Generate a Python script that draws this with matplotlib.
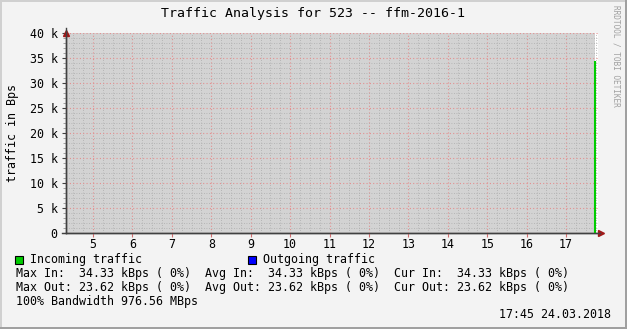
import numpy as np
import matplotlib
matplotlib.use("Agg")
import matplotlib.pyplot as plt
from matplotlib.patches import Rectangle
from matplotlib.lines import Line2D

# data
sample_hours = [17.73]          # only sample present (hours of day)
incoming_bps = [34330]
outgoing_bps = [23620]
x_ticks = [5, 6, 7, 8, 9, 10, 11, 12, 13, 14, 15, 16, 17]
y_ticks = [0, 5000, 10000, 15000, 20000, 25000, 30000, 35000, 40000]
y_labels = ["0", "5 k", "10 k", "15 k", "20 k", "25 k", "30 k", "35 k", "40 k"]

title = "Traffic Analysis for 523 -- ffm-2016-1"
stats_in = ("34.33", "34.33", "34.33")
stats_out = ("23.62", "23.62", "23.62")
bandwidth = "976.56 MBps"
stamp = "17:45 24.03.2018"

W, H = 627, 329
BG = "#f3f3f3"
MONO = "DejaVu Sans Mono"

fig = plt.figure(figsize=(W / 100, H / 100), dpi=100, facecolor=BG)

def px(x, y):
    return x / W, 1 - y / H

# plot area in pixels
left, right, top, bottom = 66, 598, 33, 233
ax = fig.add_axes([left / W, 1 - bottom / H, (right - left) / W, (bottom - top) / H])
ax.set_facecolor("#d3d3d3")
ax.set_xlim(4.315, 17.81)
ax.set_ylim(0, 40000)

# strip after the last sample stays white
ax.axvspan(sample_hours[-1], 17.81, color="white", zorder=0.5, lw=0)

# grid
ax.set_xticks(x_ticks)
ax.set_xticks(np.arange(4.5, 17.9, 0.25), minor=True)
ax.set_yticks(y_ticks)
ax.set_yticks(np.arange(0, 40001, 1000), minor=True)
ax.grid(which="minor", color="#acacac", ls=(0, (1, 2)), lw=0.6, zorder=1)
ax.grid(which="major", color="#e39090", ls=(0, (1, 2)), lw=0.8, zorder=1.1)
ax.set_axisbelow(False)

# traffic
ax.vlines(sample_hours, 0, incoming_bps, color="#00cc00", lw=1.5, zorder=3)
ax.plot(sample_hours, outgoing_bps, color="#0000ff", lw=1, zorder=4)

ax.set_xticklabels([str(t) for t in x_ticks], fontfamily=MONO, fontsize=8.4)
ax.set_yticklabels(y_labels, fontfamily=MONO, fontsize=8.4)
ax.tick_params(axis="y", which="major", direction="out", length=3, width=0.8, color="#404040", pad=3)
ax.tick_params(axis="y", which="minor", direction="out", length=2, width=0.5, color="#808080")
ax.tick_params(axis="x", which="major", direction="out", length=3, width=0.8, color="#d07070", pad=0.5)
ax.tick_params(axis="x", which="minor", length=0)

for s in ["top", "right"]:
    ax.spines[s].set_visible(False)
for s in ["left", "bottom"]:
    ax.spines[s].set_color("#404040")
    ax.spines[s].set_linewidth(1.0)

# axis arrows
fig.add_artist(Line2D([px(66, 0)[0]] * 2, [px(0, 233)[1], px(0, 28)[1]], color="#404040", lw=1))
fig.add_artist(Line2D([px(62, 0)[0], px(600, 0)[0]], [px(0, 233)[1]] * 2, color="#404040", lw=1))
ax.plot([0], [1], transform=ax.transAxes, marker="^", ms=4.5, color="#a01818", clip_on=False, zorder=5)
ax.plot([1.006], [0], transform=ax.transAxes, marker=">", ms=4.5, color="#a01818", clip_on=False, zorder=5)

ax.set_ylabel("traffic in Bps", fontfamily=MONO, fontsize=8.4, labelpad=8)

fig.text(*px(313, 13), title, ha="center", va="center", fontfamily=MONO, fontsize=9.5)
fig.text(*px(616, 5), "RRDTOOL / TOBI OETIKER", ha="center", va="top", rotation=-90,
         fontfamily=MONO, fontsize=5.6, color="#a0a0a0")

# legend
for xb, color, label in [(15, "#00cc00", "Incoming traffic"), (248, "#0000ff", "Outgoing traffic")]:
    fig.add_artist(Rectangle(px(xb, 264), 8 / W, 8 / H, transform=fig.transFigure,
                             facecolor=color, edgecolor="black", lw=0.8))
    fig.text(*px(xb + 15, 259), label, va="center", fontfamily=MONO, fontsize=8.4)

row_in = "Max In:  %s kBps ( 0%%)  Avg In:  %s kBps ( 0%%)  Cur In:  %s kBps ( 0%%)" % stats_in
row_out = "Max Out: %s kBps ( 0%%)  Avg Out: %s kBps ( 0%%)  Cur Out: %s kBps ( 0%%)" % stats_out
for y, txt in [(273, row_in), (287, row_out), (301, "100% Bandwidth " + bandwidth)]:
    fig.text(*px(16, y), txt, va="center", fontfamily=MONO, fontsize=8.4)
fig.text(*px(611, 315), stamp, ha="right", va="center", fontfamily=MONO, fontsize=8.4)

# 3d frame
fig.add_artist(Rectangle((0, 0), 2 / W, 1, transform=fig.transFigure, color="#d0d0d0", lw=0))
fig.add_artist(Rectangle((0, 1 - 2 / H), 1, 2 / H, transform=fig.transFigure, color="#d0d0d0", lw=0))
fig.add_artist(Rectangle((1 - 2 / W, 0), 2 / W, 1, transform=fig.transFigure, color="#a0a0a0", lw=0))
fig.add_artist(Rectangle((0, 0), 1, 2 / H, transform=fig.transFigure, color="#a0a0a0", lw=0))

fig.savefig("out.png", dpi=100, facecolor=BG)
